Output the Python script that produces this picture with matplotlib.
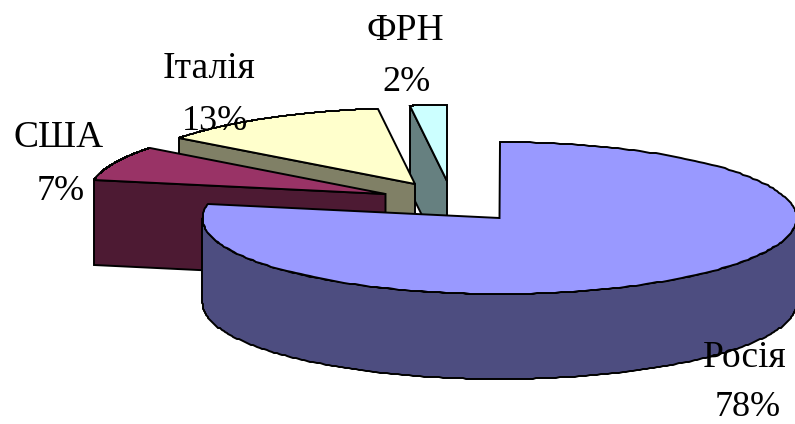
import numpy as np
import matplotlib
matplotlib.use("Agg")
import matplotlib.pyplot as plt
from matplotlib.patches import Polygon

categories = ["Росія", "США", "Італія", "ФРН"]
values = [78.0, 7.4, 12.6, 2.0]

top_colors = ["#9999FF", "#993366", "#FFFFCC", "#CCFFFF"]
side_colors = ["#4D4D80", "#4D1A33", "#808066", "#668080"]
apex_px = [(499.5, 218), (385.5, 194), (415, 184), (447, 181)]
name_px = [(745, 367), (58.5, 147), (209, 78), (405, 40)]
pct_px = [(748, 416), (60.5, 200), (215, 130), (407, 91)]
RX, RY, DEPTH = 297, 76, 85
EDGE = dict(edgecolor="black", linewidth=1.4, joinstyle="miter")

fig = plt.figure(figsize=(7.95, 4.24), dpi=100)
ax = fig.add_axes([0, 0, 1, 1])
ax.set_xlim(0, 795)
ax.set_ylim(424, 0)
ax.axis("off")

fractions = np.array(values) / sum(values)
stops = np.concatenate([[0], np.cumsum(fractions)]) * 2 * np.pi


def rim(apex, a0, a1):
    t = np.linspace(a0, a1, 240)
    pts = np.column_stack([apex[0] + RX * np.sin(t), apex[1] - RY * np.cos(t)])
    return np.round(pts)


def down(pts):
    return pts + np.array([0, DEPTH])


for i, z in zip([3, 2, 1, 0], [2, 4, 6, 8]):
    a0, a1 = stops[i], stops[i + 1]
    apex = np.array(apex_px[i], dtype=float)
    if i == 0:
        # outer wall: the front half of the ellipse
        wall = rim(apex, max(a0, np.pi / 2), min(a1, 1.5 * np.pi))
        ax.add_patch(Polygon(np.vstack([wall, down(wall)[::-1]]), closed=True,
                             facecolor=side_colors[i], zorder=z, **EDGE))
    else:
        # cut face at the slice's leading edge, looking towards the viewer
        p = rim(apex, a0, a0)[0]
        face = np.array([p, apex, apex + [0, DEPTH], p + [0, DEPTH]])
        ax.add_patch(Polygon(face, closed=True, facecolor=side_colors[i], zorder=z, **EDGE))
    top = np.vstack([apex, rim(apex, a0, a1)])
    ax.add_patch(Polygon(top, closed=True, facecolor=top_colors[i], zorder=z + 0.5, **EDGE))

for name, val, (nx, ny), (px, py) in zip(categories, values, name_px, pct_px):
    ax.text(nx, ny, name, ha="center", va="baseline", fontsize=27,
            family="Liberation Serif", color="black", zorder=30)
    ax.text(px, py, f"{round(val)}%", ha="center", va="baseline", fontsize=26,
            family="Liberation Serif", color="black", zorder=30)

fig.savefig("out.png", dpi=100)
